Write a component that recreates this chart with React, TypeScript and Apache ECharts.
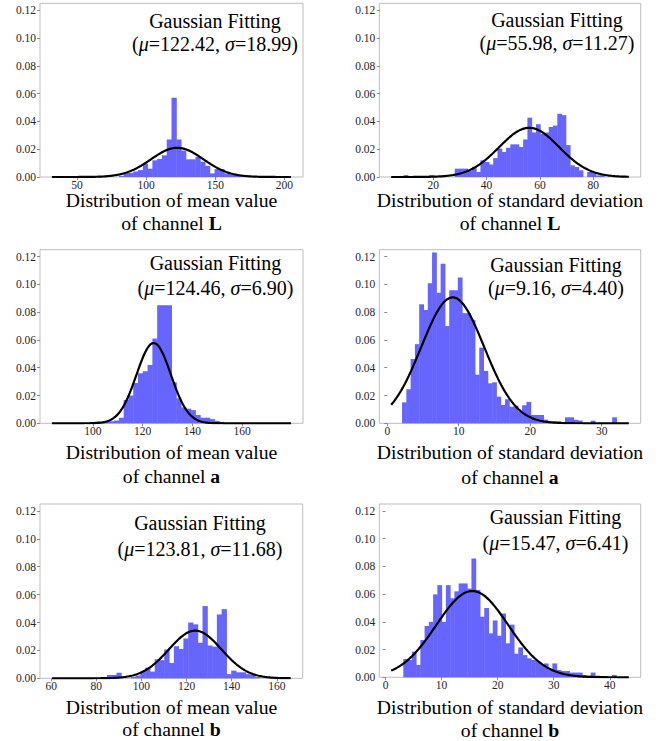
import React, { useEffect, useRef } from "react";
import * as echarts from "echarts";

const FONT = '"Liberation Serif", "Times New Roman", Times, serif';

// ---------- data ----------
// Gaussian fit parameters per panel (L mean, L std, a mean, a std, b mean, b std)
const fitMu = [122.42, 55.98, 124.46, 9.16, 123.81, 15.47];
const fitSigma = [18.99, 11.27, 6.9, 4.4, 11.68, 6.41];
const fitMuText = ["122.42", "55.98", "124.46", "9.16", "123.81", "15.47"];
const fitSigmaText = ["18.99", "11.27", "6.90", "4.40", "11.68", "6.41"];
// range over which the fitted curve is drawn
const curveFrom = [31.8, 4.27, 83.6, 0.55, 60.3, 1.0];
const curveTo = [204.8, 93.3, 179.6, 33.8, 166.2, 43.4];

// histogram bins: first edge, bin width, densities
const binStart = [31.8, 8.9, 83.6, 2.07, 61.35, 3.16];
const binWidth = [3.46, 1.6, 1.92, 0.6, 2.12, 0.76];

const histMeanL = [
  0, 0, 0, 0, 0, 0, 0, 0, 0, 0,
  0, 0, 0, 0, 0.0008, 0.0028, 0.003, 0.004, 0.005, 0.0096,
  0.006, 0.012, 0.013, 0.0156, 0.027, 0.057, 0.027, 0.019, 0.0127, 0.0127,
  0.0145, 0.011, 0.008, 0.0026, 0.0057, 0.0057, 0.0026, 0.002, 0.002, 0.0012,
  0.0012, 0.0005, 0, 0, 0, 0, 0, 0, 0, 0,
];
const histStdL = [
  0.0014, 0, 0, 0, 0, 0, 0.0014, 0, 0, 0,
  0, 0, 0.006, 0.006, 0.006, 0.0043, 0.0074, 0.0036, 0.012, 0.0108,
  0.009, 0.0136, 0.0204, 0.018, 0.021, 0.0235, 0.0235, 0.0216, 0.027, 0.0427,
  0.032, 0.038, 0.031, 0.032, 0.036, 0.037, 0.0455, 0.0445, 0.023, 0.0084,
  0.0072, 0.0048, 0, 0.0036, 0.003, 0.0012, 0.0012, 0, 0, 0,
];
const histMeanA = [
  0, 0, 0, 0, 0, 0, 0, 0, 0, 0.0012,
  0.0012, 0.0015, 0.0015, 0.002, 0.004, 0.0168, 0.02, 0.029, 0.036, 0.0375,
  0.042, 0.061, 0.085, 0.085, 0.085, 0.0295, 0.018, 0.0115, 0.0105, 0.0095,
  0.006, 0.004, 0.004, 0.003, 0.0017, 0.001, 0, 0, 0, 0,
  0, 0, 0, 0, 0, 0, 0, 0, 0, 0,
];
const histStdA = [
  0.0151, 0.0245, 0.0463, 0.057, 0.0857, 0.0816, 0.1008, 0.123, 0.094, 0.1148,
  0.07, 0.0958, 0.0958, 0.105, 0.0793, 0.0793, 0.0745, 0.035, 0.0545, 0.0377,
  0.0288, 0.0295, 0.0192, 0.0132, 0.0173, 0.012, 0.0127, 0.0086, 0.013, 0.0154,
  0.006, 0.006, 0.006, 0.0026, 0.0014, 0.0014, 0.0014, 0, 0.0043, 0.0043,
  0.0025, 0.002, 0, 0, 0.0019, 0, 0, 0, 0, 0.0043,
];
const histMeanB = [
  0, 0, 0, 0, 0, 0, 0, 0, 0, 0,
  0, 0.0024, 0.0024, 0.004, 0, 0, 0.001, 0.002, 0.0048, 0.0076,
  0.0048, 0.0136, 0.013, 0.0207, 0.011, 0.023, 0.021, 0.0286, 0.04, 0.0387,
  0.0255, 0.0518, 0.0235, 0.0227, 0.0458, 0.0496, 0.003, 0.0055, 0.0043, 0.0043,
  0.003, 0.0024, 0.001, 0, 0, 0, 0, 0, 0, 0,
];
const histStdB = [
  0.0132, 0.0125, 0.0185, 0.0089, 0.0269, 0.037, 0.04, 0.0598, 0.0665, 0.04,
  0.0665, 0.057, 0.062, 0.0677, 0.0677, 0.064, 0.0857, 0.063, 0.0437, 0.05,
  0.0317, 0.041, 0.03, 0.046, 0.0245, 0.038, 0.017, 0.0215, 0.016, 0.0137,
  0.0125, 0.0115, 0.0096, 0.01, 0.0053, 0.01, 0.0053, 0.0045, 0.0045, 0.0034,
  0.0034, 0.0034, 0.0017, 0.0012, 0.0034, 0.0012, 0, 0, 0, 0.0017,
];
const histograms = [histMeanL, histStdL, histMeanA, histStdA, histMeanB, histStdB];

const xTickValues = [
  [50, 100, 150, 200],
  [20, 40, 60, 80],
  [100, 120, 140, 160],
  [0, 10, 20, 30],
  [60, 80, 100, 120, 140, 160],
  [0, 10, 20, 30, 40],
];
const yTickValues = [0, 0.02, 0.04, 0.06, 0.08, 0.1, 0.12];

const titleLine1 = [
  "Distribution of mean value",
  "Distribution of standard deviation",
  "Distribution of mean value",
  "Distribution of standard deviation",
  "Distribution of mean value",
  "Distribution of standard deviation",
];
const channelName = ["L", "L", "a", "a", "b", "b"];

// ---------- layout ----------
const gridLeft = [40, 379.3, 40, 379.3, 40, 379.3];
const gridTop = [3.3, 3.3, 249.7, 249.7, 504, 504];
const gridW = [263, 261.4, 263, 261.4, 262.7, 261.4];
const gridH = [173.7, 173.7, 173.6, 173.6, 174.3, 173.3];
const annX = [215, 557, 215.5, 556, 200, 555.5];
const annY1 = [20.9, 20.2, 262.7, 265.2, 523.2, 516.5];
const annY2 = [44, 43.2, 288.2, 288.2, 549.2, 543.2];
const titleX = [171.5, 510, 171.5, 510, 171.5, 510];
const titleY1 = [200, 200, 452, 452, 706.5, 706.5];
const titleY2 = [222.5, 222.5, 475.5, 476.5, 729, 730];

const BAR_COLOR = "#6666ff";

function gaussPoints(mu: number, sigma: number, a: number, b: number) {
  const pts: number[][] = [];
  const n = 240;
  for (let i = 0; i <= n; i++) {
    const x = a + ((b - a) * i) / n;
    const y = Math.exp(-((x - mu) * (x - mu)) / (2 * sigma * sigma)) / (sigma * Math.sqrt(2 * Math.PI));
    pts.push([x, y]);
  }
  return pts;
}

function buildOption() {
  const grid: any[] = [];
  const xAxis: any[] = [];
  const yAxis: any[] = [];
  const series: any[] = [];
  const graphic: any[] = [];

  for (let i = 0; i < 6; i++) {
    grid.push({
      left: gridLeft[i],
      top: gridTop[i],
      width: gridW[i],
      height: gridH[i],
      show: true,
      borderColor: "#bdbdbd",
      borderWidth: 1,
      backgroundColor: "transparent",
      containLabel: false,
      outerBoundsMode: "none",
    });
    const span = curveTo[i] - curveFrom[i];
    xAxis.push({
      gridIndex: i,
      type: "value",
      min: curveFrom[i] - 0.05 * span,
      max: curveTo[i] + 0.05 * span,
      axisLine: { show: false },
      splitLine: { show: false },
      axisTick: {
        show: true,
        length: 3,
        customValues: xTickValues[i],
        lineStyle: { color: "#8a8a8a", width: 1 },
      },
      axisLabel: {
        customValues: xTickValues[i],
        fontFamily: FONT,
        fontSize: 11.5,
        color: "#262626",
        margin: 1.5,
      },
    });
    yAxis.push({
      gridIndex: i,
      type: "value",
      min: 0,
      max: 0.125,
      axisLine: { show: false },
      splitLine: { show: false },
      axisTick: {
        show: true,
        length: 3,
        customValues: yTickValues,
        lineStyle: { color: "#8a8a8a", width: 1 },
      },
      axisLabel: {
        customValues: yTickValues,
        formatter: (v: number) => v.toFixed(2),
        fontFamily: FONT,
        fontSize: 11.5,
        color: "#262626",
        margin: 4,
      },
    });

    const hist = histograms[i];
    const bins = hist.map((h, k) => [binStart[i] + k * binWidth[i], binStart[i] + (k + 1) * binWidth[i], h]);
    series.push({
      type: "custom",
      xAxisIndex: i,
      yAxisIndex: i,
      data: bins,
      encode: { x: [0, 1], y: 2 },
      silent: true,
      z: 2,
      renderItem: (_p: any, api: any) => {
        const h = api.value(2);
        if (!h) return null;
        const p0 = api.coord([api.value(0), h]);
        const p1 = api.coord([api.value(1), 0]);
        return {
          type: "rect",
          shape: { x: p0[0], y: p0[1], width: p1[0] - p0[0] + 0.5, height: p1[1] - p0[1] },
          style: { fill: BAR_COLOR },
        };
      },
    });
    series.push({
      type: "line",
      xAxisIndex: i,
      yAxisIndex: i,
      data: gaussPoints(fitMu[i], fitSigma[i], curveFrom[i], curveTo[i]),
      showSymbol: false,
      symbol: "none",
      silent: true,
      z: 5,
      lineStyle: { color: "#000", width: 2.2 },
    });

    const annFont = { fontFamily: FONT, fontSize: 20, fill: "#000" };
    graphic.push({
      type: "text",
      x: annX[i],
      y: annY1[i],
      silent: true,
      style: { text: "Gaussian Fitting", ...annFont, align: "center", verticalAlign: "middle" },
    });
    graphic.push({
      type: "text",
      x: annX[i],
      y: annY2[i],
      silent: true,
      style: {
        text: `({i|μ}=${fitMuText[i]}, {i|σ}=${fitSigmaText[i]})`,
        ...annFont,
        align: "center",
        verticalAlign: "middle",
        rich: { i: { fontStyle: "italic", fontFamily: FONT, fontSize: 20, fill: "#000" } },
      },
    });
    const tFont = { fontFamily: FONT, fontSize: 19.7, fill: "#000", lineHeight: 19 };
    graphic.push({
      type: "text",
      x: titleX[i],
      y: titleY1[i],
      silent: true,
      style: { text: titleLine1[i], ...tFont, align: "center", verticalAlign: "middle" },
    });
    graphic.push({
      type: "text",
      x: titleX[i],
      y: titleY2[i],
      silent: true,
      style: {
        text: `of channel {b|${channelName[i]}}`,
        ...tFont,
        align: "center",
        verticalAlign: "middle",
        rich: { b: { fontWeight: "bold", fontFamily: FONT, fontSize: 19.7, fill: "#000", lineHeight: 19 } },
      },
    });
  }

  return {
    animation: false,
    backgroundColor: "#ffffff",
    grid,
    xAxis,
    yAxis,
    series,
    graphic,
  };
}

export default function App() {
  const ref = useRef<HTMLDivElement>(null);
  useEffect(() => {
    document.body.style.margin = "0";
    if (!ref.current) return;
    const chart = echarts.init(ref.current, null, { renderer: "svg" });
    chart.setOption(buildOption() as any);
    return () => chart.dispose();
  }, []);
  return <div ref={ref} style={{ width: 665, height: 741, position: "absolute", left: 0, top: 0 }} />;
}
